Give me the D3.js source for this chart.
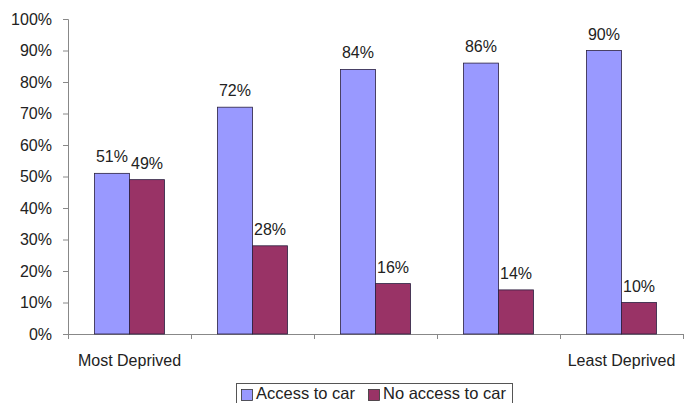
<!DOCTYPE html>
<html>
<head>
<meta charset="utf-8">
<script src="https://cdn.jsdelivr.net/npm/d3@7"></script>
<style>
  body { margin: 0; background: #fff; }
  text { font-family: Arial, "Liberation Sans", sans-serif; fill: #222; }
</style>
</head>
<body>
<svg id="chart" width="691" height="403"></svg>
<script>
// data
var groups = ["Q1", "Q2", "Q3", "Q4", "Q5"];
var groupLabels = ["Most Deprived", "", "", "", "Least Deprived"];
var seriesNames = ["Access to car", "No access to car"];
var accessToCar = [0.51, 0.72, 0.84, 0.86, 0.90];
var noAccessToCar = [0.49, 0.28, 0.16, 0.14, 0.10];
var yTicks = [0, 0.1, 0.2, 0.3, 0.4, 0.5, 0.6, 0.7, 0.8, 0.9, 1.0];
var colors = ["#9999ff", "#993366"];

var svg = d3.select("#chart");

var plotLeft = 68, plotRight = 683, plotTop = 19, plotBottom = 334;

var x = d3.scaleBand().domain(groups).range([plotLeft, plotRight]);
var x1 = d3.scaleBand().domain(seriesNames).range([0, x.bandwidth()]).paddingOuter(0.757);
var y = d3.scaleLinear().domain([0, 1]).range([plotBottom, plotTop]);

var rows = groups.map(function(g, i) {
    return { group: g, values: [accessToCar[i], noAccessToCar[i]] };
});

// y axis
var yAxis = svg.append("g")
    .attr("transform", "translate(" + plotLeft + ",0)")
    .call(d3.axisLeft(y).tickValues(yTicks).tickFormat(d3.format(".0%")).tickSize(5).tickPadding(11));
yAxis.selectAll("path, line").attr("stroke", "#888");
yAxis.selectAll("text").attr("font-size", "16px").attr("font-family", null).attr("fill", "#222");

// x axis with ticks on band edges
var edges = d3.scaleLinear().domain([0, groups.length]).range([plotLeft, plotRight]);
var xAxis = svg.append("g")
    .attr("transform", "translate(0," + plotBottom + ")")
    .call(d3.axisBottom(edges).tickValues(d3.range(groups.length + 1)).tickFormat("").tickSize(5).tickSizeOuter(5));
xAxis.selectAll("path, line").attr("stroke", "#888");

svg.append("g").selectAll("text")
    .data(groupLabels)
    .enter().append("text")
    .attr("x", function(d, i) { return x(groups[i]) + x.bandwidth() / 2; })
    .attr("y", 366)
    .attr("text-anchor", "middle")
    .attr("font-size", "16px")
    .text(function(d) { return d; });

// bars
var gGroups = svg.append("g").selectAll("g")
    .data(rows)
    .enter().append("g")
    .attr("transform", function(d) { return "translate(" + x(d.group) + ",0)"; });

gGroups.selectAll("rect")
    .data(function(d) { return d.values.map(function(v, j) { return { key: seriesNames[j], v: v, j: j }; }); })
    .enter().append("rect")
    .attr("x", function(d) { return x1(d.key); })
    .attr("y", function(d) { return y(d.v); })
    .attr("width", x1.bandwidth())
    .attr("height", function(d) { return plotBottom - y(d.v); })
    .attr("fill", function(d) { return colors[d.j]; })
    .attr("stroke", "#2a2040")
    .attr("stroke-width", 0.8);

gGroups.selectAll("text")
    .data(function(d) { return d.values.map(function(v, j) { return { key: seriesNames[j], v: v }; }); })
    .enter().append("text")
    .attr("x", function(d) { return x1(d.key) + x1.bandwidth() / 2; })
    .attr("y", function(d) { return y(d.v) - 11; })
    .attr("text-anchor", "middle")
    .attr("font-size", "16px")
    .text(function(d) { return d3.format(".0%")(d.v); });

// legend (box runs past the bottom edge, as in the original)
var legend = svg.append("g");
legend.append("rect")
    .attr("x", 236.5).attr("y", 383.5)
    .attr("width", 276).attr("height", 30)
    .attr("fill", "#fff").attr("stroke", "#555");

var legendX = [241, 368];
seriesNames.forEach(function(name, i) {
    legend.append("rect")
        .attr("x", legendX[i] + 0.5).attr("y", 389.5)
        .attr("width", 11).attr("height", 11)
        .attr("fill", colors[i]).attr("stroke", "#333").attr("stroke-width", 0.8);
    legend.append("text")
        .attr("x", legendX[i] + 15).attr("y", 399)
        .attr("font-size", "16.5px")
        .text(name);
});
</script>
</body>
</html>
